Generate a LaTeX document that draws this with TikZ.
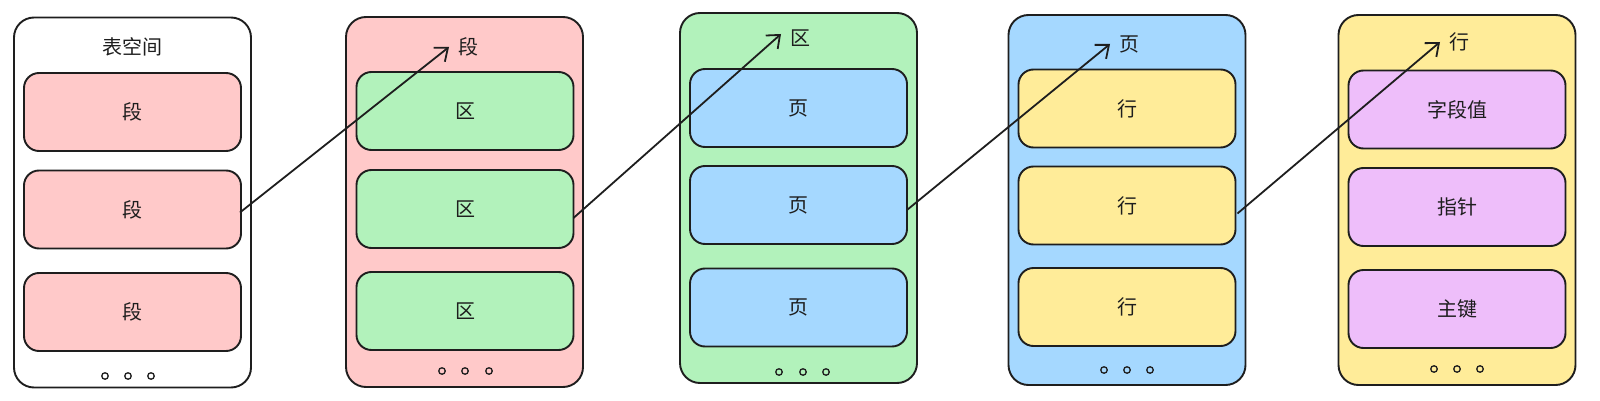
\documentclass[tikz,border=0pt]{standalone}
\usepackage{fontspec}
\setmainfont{Noto Sans CJK SC}
\usetikzlibrary{arrows.meta}
\definecolor{ink}{HTML}{1E1E1E}
\definecolor{cpink}{HTML}{FFC9C9}
\definecolor{cgreen}{HTML}{B2F2BB}
\definecolor{cblue}{HTML}{A5D8FF}
\definecolor{cyellow}{HTML}{FFEC99}
\definecolor{cpurple}{HTML}{EEBEFA}
\begin{document}
\begin{tikzpicture}[x=1pt,y=-1pt,
  outerbox/.style={draw=ink, line width=1.9pt, rounded corners=20pt, minimum width=237pt, minimum height=370pt, inner sep=0pt},
  innerbox/.style={draw=ink, line width=1.9pt, rounded corners=15pt, minimum width=217pt, minimum height=78pt, inner sep=0pt, text=ink, font=\fontsize{20}{20}\selectfont},
  titletext/.style={text=ink, inner sep=0pt, font=\fontsize{20}{20}\selectfont},
  dotmark/.style={circle, draw=ink, line width=1.3pt, minimum size=6.5pt, inner sep=0pt},
  link/.style={draw=ink, line width=1.8pt, -{Straight Barb[length=11pt,width=18pt,line width=1.8pt]}}
]
\useasboundingbox (0,0) rectangle (1600,401);

% column 1
\node[outerbox, fill=white] (o1) at (132.5,202.5) {};
\node[titletext] (h1) at (132.5,47) {表空间};
\node[innerbox, fill=cpink] (a1) at (132.5,112) {段};
\node[innerbox, fill=cpink] (a2) at (132.5,209.5) {段};
\node[innerbox, fill=cpink] (a3) at (132.5,312) {段};
\node[dotmark] (d11) at (105,376) {};
\node[dotmark] (d12) at (128,376) {};
\node[dotmark] (d13) at (151,376) {};

% column 2
\node[outerbox, fill=cpink] (o2) at (464.5,202) {};
\node[titletext] (h2) at (468,47) {段};
\coordinate (t2) at (449,47);
\node[innerbox, fill=cgreen] (b1) at (465,111) {区};
\node[innerbox, fill=cgreen] (b2) at (465,209) {区};
\node[innerbox, fill=cgreen] (b3) at (465,311) {区};
\node[dotmark] (d21) at (442,371) {};
\node[dotmark] (d22) at (465,371) {};
\node[dotmark] (d23) at (489,371) {};

% column 3
\node[outerbox, fill=cgreen] (o3) at (798.5,198) {};
\node[titletext] (h3) at (800,38) {区};
\coordinate (t3) at (781,34);
\node[innerbox, fill=cblue] (c1) at (798.5,108) {页};
\node[innerbox, fill=cblue] (c2) at (798.5,205) {页};
\node[innerbox, fill=cblue] (c3) at (798.5,307.5) {页};
\node[dotmark] (d31) at (779,372) {};
\node[dotmark] (d32) at (803,372) {};
\node[dotmark] (d33) at (826,372) {};

% column 4
\node[outerbox, fill=cblue] (o4) at (1127,200) {};
\node[titletext] (h4) at (1129,44) {页};
\coordinate (t4) at (1110,44);
\node[innerbox, fill=cyellow] (e1) at (1127,108.5) {行};
\node[innerbox, fill=cyellow] (e2) at (1127,205.5) {行};
\node[innerbox, fill=cyellow] (e3) at (1127,307) {行};
\node[dotmark] (d41) at (1104,370) {};
\node[dotmark] (d42) at (1127,370) {};
\node[dotmark] (d43) at (1150,370) {};

% column 5
\node[outerbox, fill=cyellow] (o5) at (1457,200) {};
\node[titletext] (h5) at (1459,42) {行};
\coordinate (t5) at (1440,42);
\node[innerbox, fill=cpurple] (f1) at (1457,109.5) {字段值};
\node[innerbox, fill=cpurple] (f2) at (1457,207) {指针};
\node[innerbox, fill=cpurple] (f3) at (1457,309) {主键};
\node[dotmark] (d51) at (1434,369) {};
\node[dotmark] (d52) at (1457,369) {};
\node[dotmark] (d53) at (1480,369) {};

% links
\draw[link] ([xshift=-2pt,yshift=-3pt]a2.east) -- (t2);
\draw[link] ([xshift=-1pt,yshift=-9pt]b2.east) -- (t3);
\draw[link] ([xshift=-1pt,yshift=-5pt]c2.east) -- (t4);
\draw[link] ([xshift=1pt,yshift=-8pt]e2.east) -- (t5);
\end{tikzpicture}
\end{document}
